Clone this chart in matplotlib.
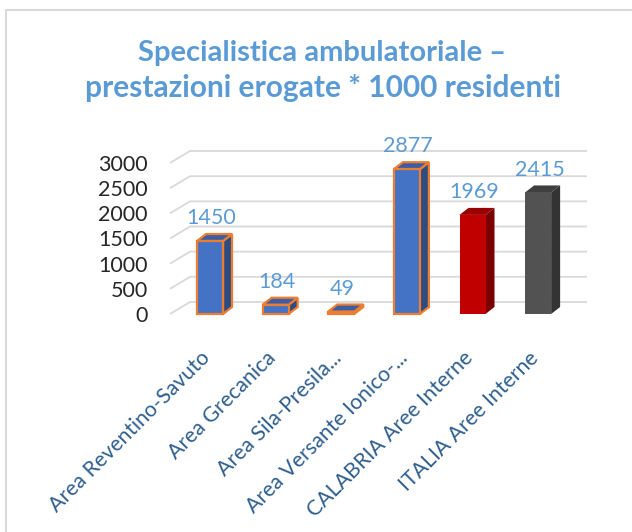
import matplotlib
matplotlib.use("Agg")
import matplotlib.pyplot as plt
import matplotlib.transforms as mtransforms
from matplotlib.patches import Rectangle, Polygon

plt.rcParams['font.family'] = ['Lato', 'DejaVu Sans']

# ---- data ----
categories = ["Area Reventino-Savuto", "Area Grecanica", "Area Sila-Presila...",
              "Area Versante Ionico-...", "CALABRIA Aree Interne", "ITALIA Aree Interne"]
values = [1450, 184, 49, 2877, 1969, 2415]
y_ticks = [0, 500, 1000, 1500, 2000, 2500, 3000]
title_lines = ["Specialistica ambulatoriale –", "prestazioni erogate * 1000 residenti"]

# ---- styles ----
front_cols = ['#4472C4'] * 4 + ['#C00000', '#525252']
side_cols = ['#2E4B82'] * 4 + ['#7A0000', '#333333']
top_cols = ['#3A5DA6'] * 4 + ['#990000', '#3F3F3F']
edge_cols = ['#ED7D31'] * 4 + ['none', 'none']
title_col = '#5B9BD5'
label_col = '#5B9BD5'
xlab_col = '#2E5E8E'
grid_col = '#D9D9D9'

W, H = 632, 532
fig = plt.figure(figsize=(W / 100, H / 100), dpi=100)

def fx(px):
    return px / W

def fy(py):
    return 1 - py / H

# chart border (cropped on right/bottom)
fig.patches.append(Rectangle((fx(6), fy(560)), 2, (560 - 10) / H, transform=fig.transFigure,
                             fill=False, edgecolor='#D9D9D9', lw=1.5))

# main axes (front plane)
left_px, right_px, y0_px, ytop_px = 170, 567, 314, 163
ax = fig.add_axes([fx(left_px), fy(y0_px), (right_px - left_px) / W, (y0_px - ytop_px) / H])
xlim = (-0.61, 5.44)
ylim = (0, 3000)
ax.set_xlim(xlim)
ax.set_ylim(ylim)
for s in ax.spines.values():
    s.set_visible(False)
ax.set_xticks([])
ax.set_yticks(y_ticks)
ax.set_yticklabels([str(t) for t in y_ticks])
ax.tick_params(axis='y', length=0, pad=16, labelsize=15.5, labelcolor='#262626')
ax.patch.set_alpha(0)

sx = (right_px - left_px) / (xlim[1] - xlim[0])
sy = (y0_px - ytop_px) / (ylim[1] - ylim[0])
w = 26 / sx
dxb, dyb = 9 / sx, 7 / sy

# perspective gridlines
gx0, gx1, gx2 = xlim[0], xlim[0] + 20 / sx, xlim[1] + 20 / sx
gdy = 12 / sy
for t in y_ticks:
    ax.plot([gx0, gx1, gx2], [t, t + gdy, t + gdy], color=grid_col, lw=1.3,
            clip_on=False, zorder=1, solid_capstyle='butt')

# 3D bars
for i, v in enumerate(values):
    x0, x1 = i - w / 2, i + w / 2
    ec = edge_cols[i]
    lw = 1.6 if ec != 'none' else 0
    side = Polygon([(x1, 0), (x1 + dxb, dyb), (x1 + dxb, v + dyb), (x1, v)], closed=True,
                   facecolor=side_cols[i], edgecolor=ec, lw=lw, zorder=3, clip_on=False,
                   joinstyle='miter')
    top = Polygon([(x0, v), (x0 + dxb, v + dyb), (x1 + dxb, v + dyb), (x1, v)], closed=True,
                  facecolor=top_cols[i], edgecolor=ec, lw=lw, zorder=3, clip_on=False,
                  joinstyle='miter')
    front = Rectangle((x0, 0), w, v, facecolor=front_cols[i], edgecolor=ec, lw=lw,
                      zorder=4, clip_on=False, joinstyle='miter')
    ax.add_patch(side)
    ax.add_patch(top)
    ax.add_patch(front)
    ax.annotate(str(v), (i, v), xytext=(1, 16.5), textcoords='offset points',
                ha='center', va='center', color=label_col, fontsize=15.5, zorder=5)

# category labels (rotated, right end at each category)
lab_tr = mtransforms.blended_transform_factory(ax.transData, fig.transFigure)
for i, c in enumerate(categories):
    ax.text(i - 0.04, fy(355), c, transform=lab_tr, rotation=45, rotation_mode='anchor',
            ha='right', va='center', fontsize=15.3, color=xlab_col, clip_on=False)

# title
fig.text(fx(322), fy(61), title_lines[0], ha='center', va='baseline', fontsize=21,
         fontweight='bold', color=title_col)
fig.text(fx(323), fy(97), title_lines[1], ha='center', va='baseline', fontsize=21.5,
         fontweight='bold', color=title_col)

fig.savefig('out.png', dpi=100, facecolor='white')
